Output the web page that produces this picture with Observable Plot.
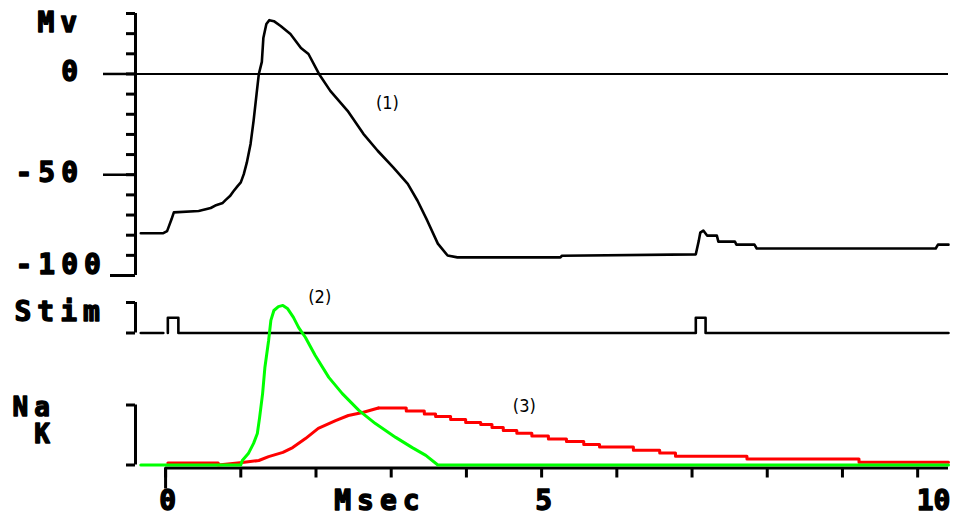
<!DOCTYPE html>
<html><head><meta charset="utf-8">
<script src="https://cdn.jsdelivr.net/npm/d3@7"></script>
<script src="https://cdn.jsdelivr.net/npm/@observablehq/plot@0.6"></script>
<style>
html,body{margin:0;padding:0;background:#fff;}
#chart{position:relative;width:957px;height:517px;overflow:hidden;background:#fff;}
#chart svg{position:absolute;left:0;top:0;background:transparent !important;overflow:visible;}
#chart text{white-space:pre;}
#chart g[font-weight="bold"]{letter-spacing:6px;}
</style></head><body><div id="chart"></div>
<script>
// ---- data (time in ms) ----
const mvTime = [-0.33,-0.03,0.02,0.04,0.08,0.11,0.44,0.60,0.66,0.76,0.80,0.86,0.90,0.96,1.00,1.04,1.08,1.13,1.17,1.21,1.24,1.28,1.30,1.34,1.38,1.44,1.53,1.66,1.80,1.90,2.04,2.19,2.42,2.63,2.82,3.03,3.22,3.35,3.48,3.62,3.75,3.88,5.25,5.27,7.05,7.09,7.11,7.15,7.20,7.33,7.35,7.57,7.59,7.83,7.86,10.24,10.27,10.41];
const mvValue = [-79,-79,-78,-76,-72,-68.7,-68,-66.5,-65.3,-64,-62.5,-60.4,-58.3,-55.5,-53.8,-49.7,-44,-34.7,-23.3,-9.9,0,6,17.8,24.8,26.7,26.2,23.8,19.8,12.9,9.9,0,-8.4,-18.3,-29.7,-38.1,-46.5,-54.5,-62.9,-72.8,-84.2,-90.1,-91,-91,-90.2,-89.5,-82.7,-78.7,-77.7,-80.2,-80.2,-83.2,-83.2,-84.7,-84.7,-86.6,-86.6,-84.7,-84.7];

const stimTime  = [-0.33,-0.03,0,0.03,0.03,0.17,0.17,7.05,7.05,7.18,7.18,10.41];
const stimValue = [0,0,NaN,0,1,1,0,0,1,1,0,0];

const naTime  = [-0.33,1.00,1.02,1.10,1.17,1.22,1.25,1.29,1.32,1.37,1.40,1.44,1.50,1.56,1.62,1.70,1.77,1.86,1.99,2.17,2.35,2.57,2.79,3.06,3.28,3.46,3.62,10.41];
const naValue = [0,0,0.075,0.19,0.36,0.525,0.79,1.19,1.62,2.075,2.41,2.575,2.64,2.66,2.61,2.46,2.29,2.125,1.825,1.46,1.19,0.91,0.69,0.46,0.29,0.16,0,0];

// K: early flat segment + rise (linear), then staircase decay (step)
const kRiseTime  = [0.03,0.70,0.70,1.02,1.24,1.37,1.56,1.69,1.86,2.03,2.26,2.43,2.62,2.83];
const kRiseValue = [0.035,0.035,0.0,0.04,0.075,0.14,0.21,0.29,0.44,0.61,0.74,0.825,0.875,0.95];
const kTailTime  = [2.83,3.20,3.44,3.59,3.79,3.99,4.19,4.34,4.49,4.67,4.87,5.09,5.33,5.56,5.77,6.22,6.57,6.78,7.73,9.22,10.41];
const kTailValue = [0.95,0.90,0.85,0.81,0.76,0.71,0.675,0.625,0.575,0.53,0.485,0.435,0.39,0.34,0.30,0.245,0.20,0.145,0.10,0.045,0.045];

// ---- ticks & labels ----
const mvMinorTicks = [-100,-90,-80,-70,-60,-50,-40,-30,-20,-10,0,10,20,30];
const mvLabelTicks = [0,-50];
const mvBottomTick = [-100];
const timeTicks = [0,1,2,3,4,5,6,7,8,9,10];
const timeLabelTicks = [0,5];
const timeEndTick = [10];
const annotations = [
  {panel:"mv",  t:2.95, v:-14.4, label:"(1)"},
  {panel:"nak", t:2.05, v:2.79,  label:"(2)"},
  {panel:"nak", t:4.77, v:0.975, label:"(3)"}
];

const zip = (a, b) => a.map((t, i) => ({t, v: b[i]}));
const mvData = zip(mvTime, mvValue);
const stimData = zip(stimTime, stimValue);
const naData = zip(naTime, naValue);
const kRise = zip(kRiseTime, kRiseValue);
const kTail = zip(kTailTime, kTailValue);

const XDOM = [-0.4, 10.41];
const MONO = "DejaVu Sans Mono";
const ink = {fill: "black", stroke: "black", strokeWidth: 1.4, lineAnchor: "middle", fontFamily: MONO, fontSize: 28};
const bold = {...ink, fontWeight: "bold"};
const boldTight = {...ink, fontWeight: "700"};
const small = {fontFamily: "Liberation Sans Narrow, DejaVu Sans Condensed, Liberation Sans", fontSize: 18, fill: "black"};
const blank = () => "";
const base = {width: 957, height: 517, marginLeft: 135, marginRight: 9,
  style: {background: "transparent", position: "absolute", left: "0px", top: "0px"}};

const mvPlot = Plot.plot({
  ...base, marginTop: 13, marginBottom: 242,
  x: {domain: XDOM, axis: null},
  y: {domain: [-100, 30]},
  marks: [
    Plot.ruleY([0], {strokeWidth: 2}),
    Plot.ruleX([XDOM[0]], {y1: -100, y2: 30, strokeWidth: 3}),
    Plot.axisY(mvMinorTicks, {tickSize: 9, tickFormat: blank, strokeWidth: 3, label: null}),
    Plot.axisY(mvLabelTicks, {tickSize: 32, tickFormat: blank, strokeWidth: 2.5, label: null}),
    Plot.axisY(mvBottomTick, {tickSize: 25, tickFormat: blank, strokeWidth: 3, label: null}),
    Plot.text(mvLabelTicks, {y: d => d, text: d => String(d).padStart(3, " "), frameAnchor: "left", textAnchor: "start", dx: -120, dy: -2, ...bold}),
    Plot.text(mvBottomTick, {y: d => d, text: d => String(d), frameAnchor: "left", textAnchor: "start", dx: -120, dy: -10, ...bold}),
    Plot.text(["Mv"], {frameAnchor: "top-left", textAnchor: "start", dx: -98, dy: 10, ...bold}),
    Plot.line(mvData, {x: "t", y: "v", stroke: "black", strokeWidth: 2.6}),
    Plot.text(annotations.filter(d => d.panel === "mv"), {x: "t", y: "v", text: "label", ...small})
  ]
});

const stimPlot = Plot.plot({
  ...base, marginTop: 302, marginBottom: 184.5,
  x: {domain: XDOM, axis: null},
  y: {domain: [0, 2]},
  marks: [
    Plot.ruleX([XDOM[0]], {y1: 0, y2: 2, strokeWidth: 3}),
    Plot.axisY([0, 2], {tickSize: 9, tickFormat: blank, strokeWidth: 3, label: null}),
    Plot.text(["Stim"], {frameAnchor: "top-left", textAnchor: "start", dx: -121, dy: 10, ...bold}),
    Plot.line(stimData, {x: "t", y: "v", stroke: "black", strokeWidth: 2.6})
  ]
});

const NAKDOM = [-0.05, 1];
const nakPlot = Plot.plot({
  ...base, marginTop: 404.5, marginBottom: 49.5,
  x: {domain: XDOM},
  y: {domain: NAKDOM},
  marks: [
    Plot.ruleX([XDOM[0]], {y1: 0, y2: 1, strokeWidth: 3}),
    Plot.axisY([0, 1], {tickSize: 9, tickFormat: blank, strokeWidth: 3, label: null}),
    Plot.ruleY([NAKDOM[0]], {x1: 0, x2: XDOM[1], strokeWidth: 3}),
    Plot.axisX(timeTicks, {tickSize: 10, tickFormat: blank, strokeWidth: 3, label: null}),
    Plot.axisX([0], {tickSize: 21, tickFormat: blank, strokeWidth: 3, label: null}),
    Plot.text(timeLabelTicks, {x: d => d, text: d => String(d), frameAnchor: "bottom", textAnchor: "middle", dx: 5, dy: 33, ...bold}),
    Plot.text(timeEndTick, {x: d => d, text: d => String(d), frameAnchor: "bottom", textAnchor: "start", dx: -1, dy: 33, ...boldTight}),
    Plot.text(["Msec"], {x: [2.85], frameAnchor: "bottom", textAnchor: "middle", dy: 33, ...bold}),
    Plot.text(["Na"], {frameAnchor: "top-left", textAnchor: "start", dx: -123, dy: 3, ...bold, fontSize: 26}),
    Plot.text([" K"], {frameAnchor: "top-left", textAnchor: "start", dx: -123, dy: 30, ...bold, fontSize: 26}),
    Plot.line(kRise, {x: "t", y: "v", stroke: "#ff0000", strokeWidth: 3}),
    Plot.line(kTail, {x: "t", y: "v", curve: "step-after", stroke: "#ff0000", strokeWidth: 3}),
    Plot.line(naData, {x: "t", y: "v", stroke: "#00ff00", strokeWidth: 3}),
    Plot.text(annotations.filter(d => d.panel === "nak"), {x: "t", y: "v", text: "label", ...small})
  ]
});

const chart = document.getElementById("chart");
chart.append(mvPlot, stimPlot, nakPlot);
</script>
</body></html>
